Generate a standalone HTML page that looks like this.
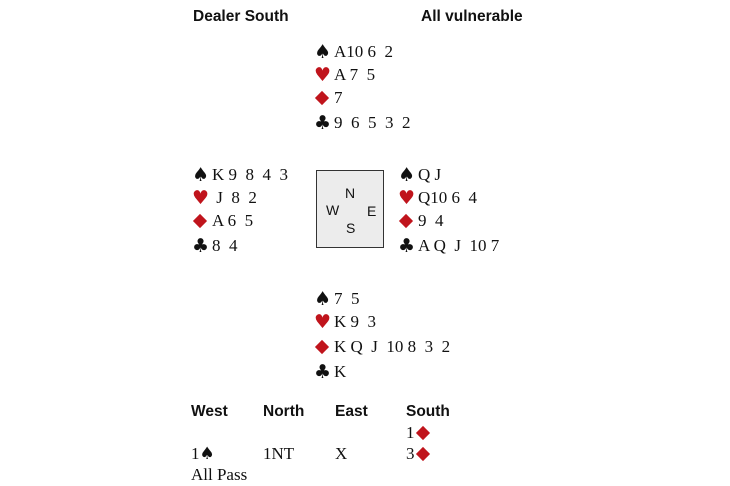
<!DOCTYPE html>
<html><head><style>
body{margin:0;width:730px;height:486px;background:#fff;position:relative;overflow:hidden;font-family:"Liberation Serif",serif;font-size:17px;color:#111}
.a{position:absolute;line-height:18px;white-space:pre}
.h{font-family:"Liberation Sans",sans-serif;font-weight:bold;font-size:15.5px}
.r{color:#c0141c}
.s{display:inline-block;width:20px;font-family:"DejaVu Sans",sans-serif;font-size:19px;line-height:18px;vertical-align:top}
.d{display:inline-block;width:20px;height:18px;position:relative;vertical-align:top}
.d::after{content:"";position:absolute;left:3px;top:4px;width:10px;height:10px;background:#c0141c;transform:rotate(45deg)}
.b{font-family:"DejaVu Sans",sans-serif;font-size:17px}
.box{position:absolute;left:316px;top:170px;width:66px;height:76px;border:1px solid #333;background:#ececec;font-family:"Liberation Sans",sans-serif;font-size:14px}
.box span{position:absolute}
</style></head><body>
<div class="a h" style="left:193px;top:8px">Dealer South</div>
<div class="a h" style="left:421px;top:8px">All vulnerable</div>

<div class="a" style="left:314px;top:43px"><span class="s">♠</span>A10 6  2</div>
<div class="a" style="left:314px;top:66px"><span class="s r">♥</span>A 7  5</div>
<div class="a" style="left:314px;top:89px"><span class="d"></span>7</div>
<div class="a" style="left:314px;top:114px"><span class="s">♣</span>9  6  5  3  2</div>

<div class="a" style="left:192px;top:166px"><span class="s">♠</span>K 9  8  4  3</div>
<div class="a" style="left:192px;top:189px"><span class="s r">♥</span> J  8  2</div>
<div class="a" style="left:192px;top:212px"><span class="d"></span>A 6  5</div>
<div class="a" style="left:192px;top:237px"><span class="s">♣</span>8  4</div>

<div class="box"><span style="left:28px;top:14px">N</span><span style="left:9px;top:31px">W</span><span style="left:50px;top:32px">E</span><span style="left:29px;top:49px">S</span></div>

<div class="a" style="left:398px;top:166px"><span class="s">♠</span>Q J</div>
<div class="a" style="left:398px;top:189px"><span class="s r">♥</span>Q10 6  4</div>
<div class="a" style="left:398px;top:212px"><span class="d"></span>9  4</div>
<div class="a" style="left:398px;top:237px"><span class="s">♣</span>A Q  J  10 7</div>

<div class="a" style="left:314px;top:290px"><span class="s">♠</span>7  5</div>
<div class="a" style="left:314px;top:313px"><span class="s r">♥</span>K 9  3</div>
<div class="a" style="left:314px;top:338px"><span class="d"></span>K Q  J  10 8  3  2</div>
<div class="a" style="left:314px;top:363px"><span class="s">♣</span>K</div>

<div class="a h" style="left:191px;top:403px">West</div>
<div class="a h" style="left:263px;top:403px">North</div>
<div class="a h" style="left:335px;top:403px">East</div>
<div class="a h" style="left:406px;top:403px">South</div>
<div class="a" style="left:406px;top:424px">1<span class="d"></span></div>
<div class="a" style="left:191px;top:445px">1<span class="b">♠</span></div>
<div class="a" style="left:263px;top:445px">1NT</div>
<div class="a" style="left:335px;top:445px">X</div>
<div class="a" style="left:406px;top:445px">3<span class="d"></span></div>
<div class="a" style="left:191px;top:466px">All Pass</div>
</body></html>
